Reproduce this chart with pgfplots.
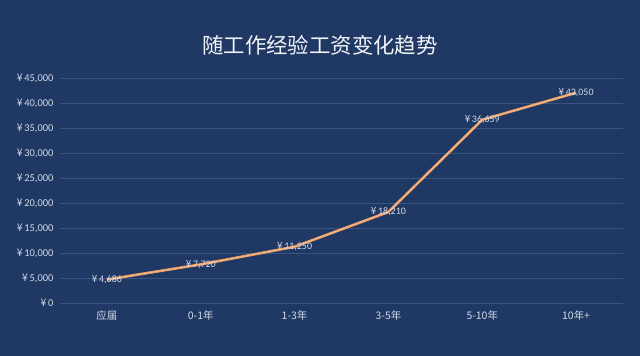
\documentclass[border=0pt]{standalone}
\usepackage{pgfplots}
\pgfplotsset{compat=1.18}
\usepackage{fontspec}
\setmainfont{Carlito}
\newfontfamily\cjk{Noto Sans CJK SC}
\newcommand{\yen}{{\cjk ¥}}
\definecolor{bg}{RGB}{31,56,100}
\definecolor{gridc}{RGB}{58,84,128}
\definecolor{linec}{RGB}{236,158,98}
\definecolor{txt}{RGB}{210,218,232}
\begin{document}
\begin{tikzpicture}
\fill[bg] (0bp,0bp) rectangle (640bp,356bp);
\node[text=white!94!bg, font=\cjk\fontsize{21.5}{24}\selectfont] at (320bp,311bp) {随工作经验工资变化趋势};
\begin{axis}[
  at={(60bp,53bp)}, anchor=south west,
  scale only axis, width=563bp, height=225bp,
  xmin=-0.5, xmax=5.5, ymin=0, ymax=45000,
  axis line style={draw=none},
  tick style={draw=none},
  ymajorgrids, grid style={gridc, line width=0.6pt},
  ytick={0,5000,...,45000},
  yticklabel={\yen\,\pgfmathprintnumber[assume math mode=true,fixed,1000 sep={,}]{\tick}},
  scaled y ticks=false,
  yticklabel style={text=txt, font=\fontsize{10.5}{12}\selectfont, xshift=-3bp},
  xtick={0,...,5},
  xticklabels={应届,0-1年,1-3年,3-5年,5-10年,10年+},
  xticklabel style={text=txt, font=\cjk\fontsize{10.5}{12}\selectfont, yshift=-4bp},
  clip=false,
]
\addplot[draw=none, nodes near coords, point meta=explicit symbolic,
  every node near coord/.style={anchor=center, text=txt, font=\fontsize{10}{12}\selectfont}]
  table[meta=label] {
x y label
0 4686 {\yen\,4,686}
1 7720 {\yen\,7,720}
2 11250 {\yen\,11,250}
3 18210 {\yen\,18,210}
4 36659 {\yen\,36,659}
5 42050 {\yen\,42,050}
};
\addplot[linec, line width=2.6pt, line join=round, mark=none] table {
x y
0 4686
1 7720
2 11250
3 18210
4 36659
5 42050
};
\addplot[linec!60!white, line width=0.8pt, line join=round, mark=none, opacity=0.7] table {
x y
0 4686
1 7720
2 11250
3 18210
4 36659
5 42050
};
\end{axis}
\end{tikzpicture}
\end{document}
